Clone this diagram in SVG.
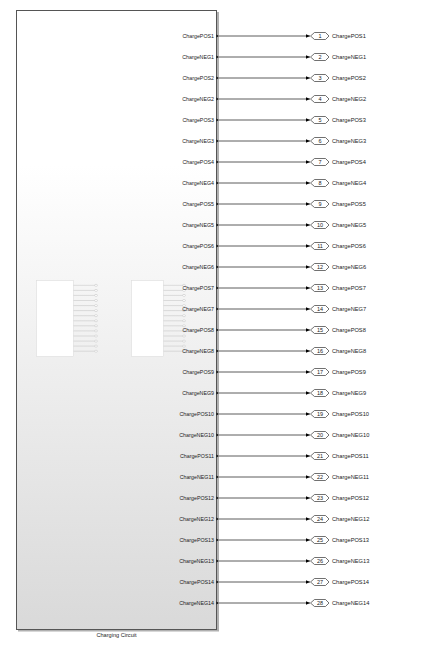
<svg xmlns="http://www.w3.org/2000/svg" width="425" height="646" viewBox="0 0 425 646">
<defs>
<linearGradient id="g" x1="0" y1="0" x2="0" y2="1">
<stop offset="0" stop-color="#ffffff"/>
<stop offset="0.25" stop-color="#ffffff"/>
<stop offset="1" stop-color="#d9d9d9"/>
</linearGradient>
<marker id="arr" markerWidth="5" markerHeight="4" refX="4.5" refY="2" orient="auto" markerUnits="userSpaceOnUse">
<path d="M0,0 L4.5,2 L0,4 Z" fill="#000"/>
</marker>
<style>
.lbl{font-family:"Liberation Sans",Arial,sans-serif;font-size:5.3px;fill:#222;text-anchor:end}
.olbl{font-family:"Liberation Sans",Arial,sans-serif;font-size:5.7px;fill:#222}
.num{font-family:"Liberation Sans",Arial,sans-serif;font-size:5.5px;fill:#222;text-anchor:middle}
.wire{stroke:#333;stroke-width:0.8;fill:none;marker-end:url(#arr)}
.hex{fill:#fff;stroke:#333;stroke-width:0.7}
.pm{fill:#000}
.thin{stroke:#c8c8c8;stroke-width:0.6;fill:none}
.circ{fill:#fff;stroke:#c0c0c0;stroke-width:0.5}
</style>
</defs>
<g id="subsystem">
<rect x="18" y="12" width="201" height="619.5" fill="#b0b0b0"/>
<rect x="16.5" y="10.5" width="200" height="619" fill="url(#g)" stroke="#555" stroke-width="1"/>
<text x="116.5" y="637" class="num" style="font-size:5.6px">Charging Circuit</text>
<g id="thumb-left">
<rect x="36.5" y="280.5" width="37" height="76" fill="#fff" stroke="#ddd" stroke-width="0.6"/>
<path class="thin" d="M73.5,285.3H95M73.5,290.4H95M73.5,295.4H95M73.5,300.5H95M73.5,305.6H95M73.5,310.6H95M73.5,315.7H95M73.5,320.8H95M73.5,325.8H95M73.5,330.9H95M73.5,336H95M73.5,341.1H95M73.5,346.1H95M73.5,351.2H95"/>
<g class="circ">
<ellipse cx="96" cy="285.3" rx="1.5" ry="1"/><ellipse cx="96" cy="290.4" rx="1.5" ry="1"/><ellipse cx="96" cy="295.4" rx="1.5" ry="1"/><ellipse cx="96" cy="300.5" rx="1.5" ry="1"/><ellipse cx="96" cy="305.6" rx="1.5" ry="1"/><ellipse cx="96" cy="310.6" rx="1.5" ry="1"/><ellipse cx="96" cy="315.7" rx="1.5" ry="1"/><ellipse cx="96" cy="320.8" rx="1.5" ry="1"/><ellipse cx="96" cy="325.8" rx="1.5" ry="1"/><ellipse cx="96" cy="330.9" rx="1.5" ry="1"/><ellipse cx="96" cy="336" rx="1.5" ry="1"/><ellipse cx="96" cy="341.1" rx="1.5" ry="1"/><ellipse cx="96" cy="346.1" rx="1.5" ry="1"/><ellipse cx="96" cy="351.2" rx="1.5" ry="1"/>
</g>
</g>
<g id="thumb-right">
<rect x="131.5" y="280.5" width="32" height="76" fill="#fff" stroke="#ddd" stroke-width="0.6"/>
<path class="thin" d="M163.5,285.3H183M163.5,290.4H183M163.5,295.4H183M163.5,300.5H183M163.5,305.6H183M163.5,310.6H183M163.5,315.7H183M163.5,320.8H183M163.5,325.8H183M163.5,330.9H183M163.5,336H183M163.5,341.1H183M163.5,346.1H183M163.5,351.2H183"/>
<g class="circ">
<ellipse cx="184" cy="285.3" rx="1.5" ry="1"/><ellipse cx="184" cy="290.4" rx="1.5" ry="1"/><ellipse cx="184" cy="295.4" rx="1.5" ry="1"/><ellipse cx="184" cy="300.5" rx="1.5" ry="1"/><ellipse cx="184" cy="305.6" rx="1.5" ry="1"/><ellipse cx="184" cy="310.6" rx="1.5" ry="1"/><ellipse cx="184" cy="315.7" rx="1.5" ry="1"/><ellipse cx="184" cy="320.8" rx="1.5" ry="1"/><ellipse cx="184" cy="325.8" rx="1.5" ry="1"/><ellipse cx="184" cy="330.9" rx="1.5" ry="1"/><ellipse cx="184" cy="336" rx="1.5" ry="1"/><ellipse cx="184" cy="341.1" rx="1.5" ry="1"/><ellipse cx="184" cy="346.1" rx="1.5" ry="1"/><ellipse cx="184" cy="351.2" rx="1.5" ry="1"/>
</g>
</g>
<g id="port-labels">
<text class="lbl" x="214" y="38">ChargePOS1</text>
<text class="lbl" x="214" y="59">ChargeNEG1</text>
<text class="lbl" x="214" y="80">ChargePOS2</text>
<text class="lbl" x="214" y="101">ChargeNEG2</text>
<text class="lbl" x="214" y="122">ChargePOS3</text>
<text class="lbl" x="214" y="143">ChargeNEG3</text>
<text class="lbl" x="214" y="164">ChargePOS4</text>
<text class="lbl" x="214" y="185">ChargeNEG4</text>
<text class="lbl" x="214" y="206">ChargePOS5</text>
<text class="lbl" x="214" y="227">ChargeNEG5</text>
<text class="lbl" x="214" y="248">ChargePOS6</text>
<text class="lbl" x="214" y="269">ChargeNEG6</text>
<text class="lbl" x="214" y="290">ChargePOS7</text>
<text class="lbl" x="214" y="311">ChargeNEG7</text>
<text class="lbl" x="214" y="332">ChargePOS8</text>
<text class="lbl" x="214" y="353">ChargeNEG8</text>
<text class="lbl" x="214" y="374">ChargePOS9</text>
<text class="lbl" x="214" y="395">ChargeNEG9</text>
<text class="lbl" x="214" y="416">ChargePOS10</text>
<text class="lbl" x="214" y="437">ChargeNEG10</text>
<text class="lbl" x="214" y="458">ChargePOS11</text>
<text class="lbl" x="214" y="479">ChargeNEG11</text>
<text class="lbl" x="214" y="500">ChargePOS12</text>
<text class="lbl" x="214" y="521">ChargeNEG12</text>
<text class="lbl" x="214" y="542">ChargePOS13</text>
<text class="lbl" x="214" y="563">ChargeNEG13</text>
<text class="lbl" x="214" y="584">ChargePOS14</text>
<text class="lbl" x="214" y="605">ChargeNEG14</text>
</g>
<path class="pm" d="M216.5,34.5l2,1.5l-2,1.5zM216.5,55.5l2,1.5l-2,1.5zM216.5,76.5l2,1.5l-2,1.5zM216.5,97.5l2,1.5l-2,1.5zM216.5,118.5l2,1.5l-2,1.5zM216.5,139.5l2,1.5l-2,1.5zM216.5,160.5l2,1.5l-2,1.5zM216.5,181.5l2,1.5l-2,1.5zM216.5,202.5l2,1.5l-2,1.5zM216.5,223.5l2,1.5l-2,1.5zM216.5,244.5l2,1.5l-2,1.5zM216.5,265.5l2,1.5l-2,1.5zM216.5,286.5l2,1.5l-2,1.5zM216.5,307.5l2,1.5l-2,1.5zM216.5,328.5l2,1.5l-2,1.5zM216.5,349.5l2,1.5l-2,1.5zM216.5,370.5l2,1.5l-2,1.5zM216.5,391.5l2,1.5l-2,1.5zM216.5,412.5l2,1.5l-2,1.5zM216.5,433.5l2,1.5l-2,1.5zM216.5,454.5l2,1.5l-2,1.5zM216.5,475.5l2,1.5l-2,1.5zM216.5,496.5l2,1.5l-2,1.5zM216.5,517.5l2,1.5l-2,1.5zM216.5,538.5l2,1.5l-2,1.5zM216.5,559.5l2,1.5l-2,1.5zM216.5,580.5l2,1.5l-2,1.5zM216.5,601.5l2,1.5l-2,1.5z"/>
</g>
<g id="connectors">
<path class="wire" d="M218.5,36H310"/>
<path class="wire" d="M218.5,57H310"/>
<path class="wire" d="M218.5,78H310"/>
<path class="wire" d="M218.5,99H310"/>
<path class="wire" d="M218.5,120H310"/>
<path class="wire" d="M218.5,141H310"/>
<path class="wire" d="M218.5,162H310"/>
<path class="wire" d="M218.5,183H310"/>
<path class="wire" d="M218.5,204H310"/>
<path class="wire" d="M218.5,225H310"/>
<path class="wire" d="M218.5,246H310"/>
<path class="wire" d="M218.5,267H310"/>
<path class="wire" d="M218.5,288H310"/>
<path class="wire" d="M218.5,309H310"/>
<path class="wire" d="M218.5,330H310"/>
<path class="wire" d="M218.5,351H310"/>
<path class="wire" d="M218.5,372H310"/>
<path class="wire" d="M218.5,393H310"/>
<path class="wire" d="M218.5,414H310"/>
<path class="wire" d="M218.5,435H310"/>
<path class="wire" d="M218.5,456H310"/>
<path class="wire" d="M218.5,477H310"/>
<path class="wire" d="M218.5,498H310"/>
<path class="wire" d="M218.5,519H310"/>
<path class="wire" d="M218.5,540H310"/>
<path class="wire" d="M218.5,561H310"/>
<path class="wire" d="M218.5,582H310"/>
<path class="wire" d="M218.5,603H310"/>
</g>
<g id="outports">
<g id="out1" transform="translate(0,36)"><path class="hex" d="M310.5,0L314.5,-3.5H325.5L329,0L325.5,3.5H314.5Z"/><text class="num" x="320" y="2">1</text><text class="olbl" x="332" y="2">ChargePOS1</text></g>
<g id="out2" transform="translate(0,57)"><path class="hex" d="M310.5,0L314.5,-3.5H325.5L329,0L325.5,3.5H314.5Z"/><text class="num" x="320" y="2">2</text><text class="olbl" x="332" y="2">ChargeNEG1</text></g>
<g id="out3" transform="translate(0,78)"><path class="hex" d="M310.5,0L314.5,-3.5H325.5L329,0L325.5,3.5H314.5Z"/><text class="num" x="320" y="2">3</text><text class="olbl" x="332" y="2">ChargePOS2</text></g>
<g id="out4" transform="translate(0,99)"><path class="hex" d="M310.5,0L314.5,-3.5H325.5L329,0L325.5,3.5H314.5Z"/><text class="num" x="320" y="2">4</text><text class="olbl" x="332" y="2">ChargeNEG2</text></g>
<g id="out5" transform="translate(0,120)"><path class="hex" d="M310.5,0L314.5,-3.5H325.5L329,0L325.5,3.5H314.5Z"/><text class="num" x="320" y="2">5</text><text class="olbl" x="332" y="2">ChargePOS3</text></g>
<g id="out6" transform="translate(0,141)"><path class="hex" d="M310.5,0L314.5,-3.5H325.5L329,0L325.5,3.5H314.5Z"/><text class="num" x="320" y="2">6</text><text class="olbl" x="332" y="2">ChargeNEG3</text></g>
<g id="out7" transform="translate(0,162)"><path class="hex" d="M310.5,0L314.5,-3.5H325.5L329,0L325.5,3.5H314.5Z"/><text class="num" x="320" y="2">7</text><text class="olbl" x="332" y="2">ChargePOS4</text></g>
<g id="out8" transform="translate(0,183)"><path class="hex" d="M310.5,0L314.5,-3.5H325.5L329,0L325.5,3.5H314.5Z"/><text class="num" x="320" y="2">8</text><text class="olbl" x="332" y="2">ChargeNEG4</text></g>
<g id="out9" transform="translate(0,204)"><path class="hex" d="M310.5,0L314.5,-3.5H325.5L329,0L325.5,3.5H314.5Z"/><text class="num" x="320" y="2">9</text><text class="olbl" x="332" y="2">ChargePOS5</text></g>
<g id="out10" transform="translate(0,225)"><path class="hex" d="M310.5,0L314.5,-3.5H325.5L329,0L325.5,3.5H314.5Z"/><text class="num" x="320" y="2">10</text><text class="olbl" x="332" y="2">ChargeNEG5</text></g>
<g id="out11" transform="translate(0,246)"><path class="hex" d="M310.5,0L314.5,-3.5H325.5L329,0L325.5,3.5H314.5Z"/><text class="num" x="320" y="2">11</text><text class="olbl" x="332" y="2">ChargePOS6</text></g>
<g id="out12" transform="translate(0,267)"><path class="hex" d="M310.5,0L314.5,-3.5H325.5L329,0L325.5,3.5H314.5Z"/><text class="num" x="320" y="2">12</text><text class="olbl" x="332" y="2">ChargeNEG6</text></g>
<g id="out13" transform="translate(0,288)"><path class="hex" d="M310.5,0L314.5,-3.5H325.5L329,0L325.5,3.5H314.5Z"/><text class="num" x="320" y="2">13</text><text class="olbl" x="332" y="2">ChargePOS7</text></g>
<g id="out14" transform="translate(0,309)"><path class="hex" d="M310.5,0L314.5,-3.5H325.5L329,0L325.5,3.5H314.5Z"/><text class="num" x="320" y="2">14</text><text class="olbl" x="332" y="2">ChargeNEG7</text></g>
<g id="out15" transform="translate(0,330)"><path class="hex" d="M310.5,0L314.5,-3.5H325.5L329,0L325.5,3.5H314.5Z"/><text class="num" x="320" y="2">15</text><text class="olbl" x="332" y="2">ChargePOS8</text></g>
<g id="out16" transform="translate(0,351)"><path class="hex" d="M310.5,0L314.5,-3.5H325.5L329,0L325.5,3.5H314.5Z"/><text class="num" x="320" y="2">16</text><text class="olbl" x="332" y="2">ChargeNEG8</text></g>
<g id="out17" transform="translate(0,372)"><path class="hex" d="M310.5,0L314.5,-3.5H325.5L329,0L325.5,3.5H314.5Z"/><text class="num" x="320" y="2">17</text><text class="olbl" x="332" y="2">ChargePOS9</text></g>
<g id="out18" transform="translate(0,393)"><path class="hex" d="M310.5,0L314.5,-3.5H325.5L329,0L325.5,3.5H314.5Z"/><text class="num" x="320" y="2">18</text><text class="olbl" x="332" y="2">ChargeNEG9</text></g>
<g id="out19" transform="translate(0,414)"><path class="hex" d="M310.5,0L314.5,-3.5H325.5L329,0L325.5,3.5H314.5Z"/><text class="num" x="320" y="2">19</text><text class="olbl" x="332" y="2">ChargePOS10</text></g>
<g id="out20" transform="translate(0,435)"><path class="hex" d="M310.5,0L314.5,-3.5H325.5L329,0L325.5,3.5H314.5Z"/><text class="num" x="320" y="2">20</text><text class="olbl" x="332" y="2">ChargeNEG10</text></g>
<g id="out21" transform="translate(0,456)"><path class="hex" d="M310.5,0L314.5,-3.5H325.5L329,0L325.5,3.5H314.5Z"/><text class="num" x="320" y="2">21</text><text class="olbl" x="332" y="2">ChargePOS11</text></g>
<g id="out22" transform="translate(0,477)"><path class="hex" d="M310.5,0L314.5,-3.5H325.5L329,0L325.5,3.5H314.5Z"/><text class="num" x="320" y="2">22</text><text class="olbl" x="332" y="2">ChargeNEG11</text></g>
<g id="out23" transform="translate(0,498)"><path class="hex" d="M310.5,0L314.5,-3.5H325.5L329,0L325.5,3.5H314.5Z"/><text class="num" x="320" y="2">23</text><text class="olbl" x="332" y="2">ChargePOS12</text></g>
<g id="out24" transform="translate(0,519)"><path class="hex" d="M310.5,0L314.5,-3.5H325.5L329,0L325.5,3.5H314.5Z"/><text class="num" x="320" y="2">24</text><text class="olbl" x="332" y="2">ChargeNEG12</text></g>
<g id="out25" transform="translate(0,540)"><path class="hex" d="M310.5,0L314.5,-3.5H325.5L329,0L325.5,3.5H314.5Z"/><text class="num" x="320" y="2">25</text><text class="olbl" x="332" y="2">ChargePOS13</text></g>
<g id="out26" transform="translate(0,561)"><path class="hex" d="M310.5,0L314.5,-3.5H325.5L329,0L325.5,3.5H314.5Z"/><text class="num" x="320" y="2">26</text><text class="olbl" x="332" y="2">ChargeNEG13</text></g>
<g id="out27" transform="translate(0,582)"><path class="hex" d="M310.5,0L314.5,-3.5H325.5L329,0L325.5,3.5H314.5Z"/><text class="num" x="320" y="2">27</text><text class="olbl" x="332" y="2">ChargePOS14</text></g>
<g id="out28" transform="translate(0,603)"><path class="hex" d="M310.5,0L314.5,-3.5H325.5L329,0L325.5,3.5H314.5Z"/><text class="num" x="320" y="2">28</text><text class="olbl" x="332" y="2">ChargeNEG14</text></g>
</g>
</svg>
